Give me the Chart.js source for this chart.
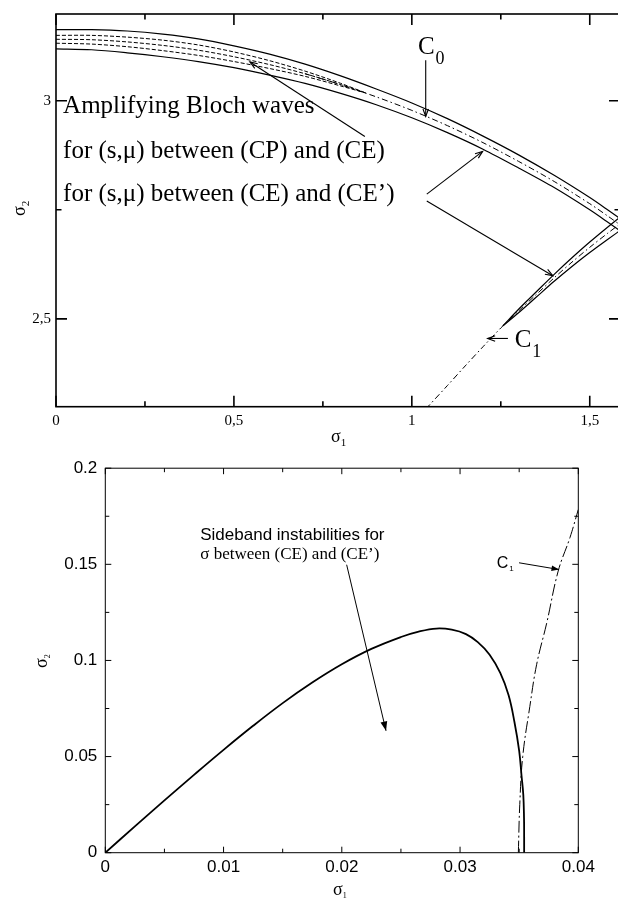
<!DOCTYPE html>
<html>
<head>
<meta charset="utf-8">
<title>Bloch wave instability domains</title>
<script src="https://cdn.jsdelivr.net/npm/chart.js@4.4.1/dist/chart.umd.min.js"></script>
<style>
  html, body { margin: 0; padding: 0; background: #fff; overflow: hidden; width: 618px; height: 898px; }
  canvas { position: absolute; left: 0; }
  #blochChart { top: 0; }
  #sidebandChart { top: 450px; }
</style>
</head>
<body>
<canvas id="blochChart" width="640" height="450"></canvas>
<canvas id="sidebandChart" width="618" height="448"></canvas>
<script>
// ---------- upper panel: bands around C0 and C1 ----------
const c0Sigma1 = [0, 0.1, 0.2, 0.3, 0.4, 0.5, 0.6, 0.7, 0.8, 0.9, 1.0, 1.1, 1.2, 1.3, 1.4, 1.5, 1.55, 1.6];
const c0Sigma2 = [3.141, 3.140, 3.135, 3.127, 3.116, 3.101, 3.083, 3.062, 3.037, 3.009, 2.978, 2.943, 2.904, 2.861, 2.815, 2.764, 2.736, 2.707];
const c0UpperSigma2 = [3.163, 3.163, 3.160, 3.153, 3.142, 3.126, 3.107, 3.084, 3.057, 3.027, 2.995, 2.959, 2.919, 2.876, 2.829, 2.778, 2.750, 2.721];
const c0LowerSigma2 = [3.119, 3.117, 3.110, 3.101, 3.090, 3.076, 3.059, 3.040, 3.017, 2.991, 2.961, 2.927, 2.889, 2.846, 2.801, 2.750, 2.722, 2.693];

// dashed inner curves (CP..CE), merging into C0
const innerSigma1 = [0, 0.1, 0.2, 0.3, 0.4, 0.5, 0.6, 0.7, 0.8, 0.87];
const innerUpper = [3.150, 3.150, 3.146, 3.139, 3.128, 3.112, 3.092, 3.068, 3.040, 3.018];
const innerMiddle = [3.141, 3.140, 3.135, 3.127, 3.116, 3.101, 3.083, 3.062, 3.037, 3.018];
const innerLower = [3.132, 3.130, 3.124, 3.115, 3.104, 3.090, 3.074, 3.056, 3.034, 3.018];

// C0 dash-dot from where the inner curves meet it
const c0LineSigma1 = [0.7, 0.8, 0.9, 1.0, 1.1, 1.2, 1.3, 1.4, 1.5, 1.55, 1.6];
const c0LineSigma2 = [3.062, 3.037, 3.009, 2.978, 2.943, 2.904, 2.861, 2.815, 2.764, 2.736, 2.707];

const c1Sigma1 = [1.04, 1.1, 1.15, 1.2, 1.25, 1.3, 1.35, 1.4, 1.45, 1.5, 1.55, 1.6];
const c1Sigma2 = [2.294, 2.347, 2.392, 2.436, 2.479, 2.518, 2.556, 2.594, 2.630, 2.664, 2.696, 2.727];
const c1BandSigma1 = [1.256, 1.3, 1.35, 1.4, 1.45, 1.5, 1.55, 1.6];
const c1UpperSigma2 = [2.484, 2.522, 2.562, 2.602, 2.640, 2.676, 2.710, 2.743];
const c1LowerSigma2 = [2.484, 2.514, 2.550, 2.586, 2.620, 2.652, 2.682, 2.711];

const topXTicks = [0, 0.5, 1, 1.5];
const topXLabels = ['0', '0,5', '1', '1,5'];
const topXMinor = [0.25, 0.75, 1.25];
const topYTicks = [2.5, 3];
const topYLabels = ['2,5', '3'];
const topYMinor = [2.75];

// ---------- lower panel: sideband instability ----------
const sidebandSigma1 = [0, 0.0025, 0.005, 0.0075, 0.01, 0.0125, 0.015, 0.0175, 0.02, 0.0225, 0.025, 0.0265, 0.028, 0.0293, 0.0305, 0.0315, 0.0325, 0.0334, 0.0341, 0.0346, 0.035, 0.0352, 0.03535, 0.03541, 0.03542, 0.03542];
const sidebandSigma2 = [0, 0.0137, 0.0272, 0.0405, 0.0535, 0.066, 0.0778, 0.0885, 0.098, 0.106, 0.1122, 0.115, 0.1166, 0.116, 0.1137, 0.1095, 0.103, 0.0935, 0.082, 0.068, 0.053, 0.04, 0.03, 0.018, 0.008, 0];
const c1LowSigma1 = [0.03493, 0.03505, 0.0353, 0.0359, 0.03648, 0.03733, 0.0383, 0.0393, 0.0400];
const c1LowSigma2 = [0, 0.025, 0.05, 0.076, 0.098, 0.1195, 0.1465, 0.164, 0.1785];

const botXTicks = [0, 0.01, 0.02, 0.03, 0.04];
const botXLabels = ['0', '0.01', '0.02', '0.03', '0.04'];
const botXMinor = [0.005, 0.015, 0.025, 0.035];
const botYTicks = [0, 0.05, 0.1, 0.15, 0.2];
const botYLabels = ['0', '0.05', '0.1', '0.15', '0.2'];
const botYMinor = [0.025, 0.075, 0.125, 0.175];

const SERIF = '"Liberation Serif", "Times New Roman", serif';
const SANS = '"Liberation Sans", Arial, sans-serif';

const pts = (xs, ys) => xs.map((v, i) => ({ x: v, y: ys[i] }));

function curve(xs, ys, style) {
  return Object.assign({
    data: pts(xs, ys), showLine: true, pointRadius: 0, borderColor: '#000',
    borderWidth: 1.2, fill: false, tension: 0.3
  }, style);
}

function fixedTicks(values) {
  return scale => { scale.ticks = values.map(v => ({ value: v })); };
}

// frame box with inward tick marks on all four sides
const frameTicks = {
  id: 'frameTicks',
  afterDatasetsDraw(chart, args, opts) {
    const { ctx, chartArea: a, scales: { x, y } } = chart;
    ctx.save();
    ctx.strokeStyle = '#000';
    ctx.lineWidth = opts.lineWidth;
    ctx.strokeRect(a.left, a.top, a.right - a.left, a.bottom - a.top);
    ctx.beginPath();
    const xMarks = (vals, len) => vals.forEach(v => {
      const p = x.getPixelForValue(v);
      ctx.moveTo(p, a.bottom); ctx.lineTo(p, a.bottom - len);
      ctx.moveTo(p, a.top); ctx.lineTo(p, a.top + len);
    });
    const yMarks = (vals, len) => vals.forEach(v => {
      const p = y.getPixelForValue(v);
      ctx.moveTo(a.left, p); ctx.lineTo(a.left + len, p);
      ctx.moveTo(a.right, p); ctx.lineTo(a.right - len, p);
    });
    xMarks(opts.xMajor, opts.major);
    xMarks(opts.xMinor, opts.minor);
    yMarks(opts.yMajor, opts.major);
    yMarks(opts.yMinor, opts.minor);
    ctx.stroke();
    ctx.restore();
  }
};

function drawArrow(ctx, x1, y1, x2, y2, size, filled) {
  const ang = Math.atan2(y2 - y1, x2 - x1);
  ctx.beginPath();
  ctx.moveTo(x1, y1);
  ctx.lineTo(x2, y2);
  ctx.stroke();
  const a1 = ang + Math.PI - 0.35, a2 = ang + Math.PI + 0.35;
  ctx.beginPath();
  ctx.moveTo(x2 + size * Math.cos(a1), y2 + size * Math.sin(a1));
  ctx.lineTo(x2, y2);
  ctx.lineTo(x2 + size * Math.cos(a2), y2 + size * Math.sin(a2));
  if (filled) { ctx.closePath(); ctx.fill(); } else { ctx.stroke(); }
}

function drawSubText(ctx, t, x, y) {
  ctx.font = t.font;
  ctx.fillText(t.text, x, y);
  if (t.sub) {
    const w = ctx.measureText(t.text).width;
    ctx.font = t.subFont;
    ctx.fillText(t.sub, x + w + (t.subDx || 0), y + t.subDy);
  }
}

// labels, arrows and axis titles
const notes = {
  id: 'notes',
  afterDraw(chart, args, opts) {
    const { ctx, scales: { x, y } } = chart;
    ctx.save();
    ctx.fillStyle = '#000';
    ctx.strokeStyle = '#000';
    ctx.textAlign = 'left';
    ctx.textBaseline = 'alphabetic';
    opts.texts.forEach(t => drawSubText(ctx, t, x.getPixelForValue(t.x), y.getPixelForValue(t.y)));
    ctx.lineWidth = opts.arrowWidth;
    opts.arrows.forEach(a => drawArrow(ctx,
      x.getPixelForValue(a.from[0]), y.getPixelForValue(a.from[1]),
      x.getPixelForValue(a.to[0]), y.getPixelForValue(a.to[1]), a.size, a.filled));
    // axis titles
    const xt = opts.xTitle;
    drawSubText(ctx, xt, xt.px, xt.py);
    const yt = opts.yTitle;
    ctx.translate(yt.px, yt.py);
    ctx.rotate(-Math.PI / 2);
    drawSubText(ctx, yt, 0, 0);
    ctx.restore();
  }
};

function axis(min, max, ticks, labels, font, padding, fit) {
  return {
    type: 'linear', min, max,
    grid: { display: false, drawTicks: false },
    border: { display: false },
    ticks: {
      autoSkip: false, maxRotation: 0, padding, color: '#000', font,
      callback: (v, i) => labels[i]
    },
    afterBuildTicks: fixedTicks(ticks),
    afterFit: fit
  };
}

new Chart(document.getElementById('blochChart'), {
  type: 'scatter',
  data: {
    datasets: [
      curve(c0Sigma1, c0UpperSigma2, {}),
      curve(c0Sigma1, c0LowerSigma2, {}),
      curve(innerSigma1, innerUpper, { borderWidth: 1, borderDash: [4, 2] }),
      curve(innerSigma1, innerMiddle, { borderWidth: 1, borderDash: [4, 2] }),
      curve(innerSigma1, innerLower, { borderWidth: 1, borderDash: [4, 2] }),
      curve(c0LineSigma1, c0LineSigma2, { borderWidth: 1, borderDash: [6, 3, 1.5, 3] }),
      curve(c1Sigma1, c1Sigma2, { borderWidth: 1, borderDash: [6, 3, 1.5, 3] }),
      curve(c1BandSigma1, c1UpperSigma2, {}),
      curve(c1BandSigma1, c1LowerSigma2, {})
    ]
  },
  options: {
    responsive: false,
    animation: false,
    events: [],
    layout: { padding: { top: 11.7, right: 20, left: 0, bottom: 0 } },
    plugins: {
      legend: { display: false },
      tooltip: { enabled: false },
      frameTicks: { lineWidth: 1.6, major: 11, minor: 5.5, xMajor: topXTicks, xMinor: topXMinor, yMajor: topYTicks, yMinor: topYMinor },
      notes: {
        arrowWidth: 1.1,
        texts: [
          { x: 0.02, y: 2.971, text: 'Amplifying Bloch waves', font: '25px ' + SERIF },
          { x: 0.02, y: 2.868, text: 'for (s,\u03bc) between (CP) and (CE)', font: '25px ' + SERIF },
          { x: 0.02, y: 2.770, text: 'for (s,\u03bc) between (CE) and (CE\u2019)', font: '25px ' + SERIF },
          { x: 1.017, y: 3.108, text: 'C', font: '25px ' + SERIF, sub: '0', subFont: '18px ' + SERIF, subDy: 10, subDx: 1 },
          { x: 1.289, y: 2.435, text: 'C', font: '25px ' + SERIF, sub: '1', subFont: '18px ' + SERIF, subDy: 10, subDx: 1 }
        ],
        arrows: [
          { from: [0.868, 2.918], to: [0.545, 3.089], size: 8 },
          { from: [1.039, 3.093], to: [1.039, 2.964], size: 8 },
          { from: [1.042, 2.786], to: [1.199, 2.884], size: 8 },
          { from: [1.042, 2.770], to: [1.396, 2.599], size: 8 },
          { from: [1.270, 2.455], to: [1.213, 2.455], size: 8 }
        ],
        xTitle: { text: '\u03c3', font: '18px ' + SERIF, sub: '1', subFont: '11px ' + SERIF, subDy: 4, px: 331, py: 442 },
        yTitle: { text: '\u03c3', font: '18px ' + SERIF, sub: '2', subFont: '11px ' + SERIF, subDy: 4, px: 25, py: 216 }
      }
    },
    scales: {
      x: axis(0, 1.585, topXTicks, topXLabels, { family: SERIF, size: 15 }, 5, s => { s.height = 43.3; }),
      y: axis(2.2985, 3.199, topYTicks, topYLabels, { family: SERIF, size: 15 }, 5, s => { s.width = 56; })
    }
  },
  plugins: [frameTicks, notes]
});

new Chart(document.getElementById('sidebandChart'), {
  type: 'scatter',
  data: {
    datasets: [
      curve(sidebandSigma1, sidebandSigma2, { borderWidth: 1.8, tension: 0.4 }),
      curve(c1LowSigma1, c1LowSigma2, { borderWidth: 1, borderDash: [12, 3, 2, 3], tension: 0.4 })
    ]
  },
  options: {
    responsive: false,
    animation: false,
    events: [],
    layout: { padding: { top: 9.3, right: 39.7, left: 0, bottom: 0 } },
    plugins: {
      legend: { display: false },
      tooltip: { enabled: false },
      frameTicks: { lineWidth: 1, major: 6, minor: 4, xMajor: botXTicks, xMinor: botXMinor, yMajor: botYTicks, yMinor: botYMinor },
      notes: {
        arrowWidth: 1,
        texts: [
          { x: 0.00803, y: 0.1625, text: 'Sideband instabilities for', font: '17px ' + SANS },
          { x: 0.00803, y: 0.1530, text: '\u03c3 between (CE) and (CE\u2019)', font: '17px ' + SERIF },
          { x: 0.0331, y: 0.148, text: 'C', font: '16px ' + SANS, sub: '1', subFont: '8px ' + SANS, subDy: 3, subDx: 1 }
        ],
        arrows: [
          { from: [0.02041, 0.1498], to: [0.02374, 0.0634], size: 10, filled: true },
          { from: [0.03499, 0.1508], to: [0.03837, 0.1473], size: 8, filled: true }
        ],
        xTitle: { text: '\u03c3', font: '18px ' + SERIF, sub: '1', subFont: '8px ' + SERIF, subDy: 3, px: 333, py: 445 },
        yTitle: { text: '\u03c3', font: '18px ' + SERIF, sub: '2', subFont: '8px ' + SERIF, subDy: 3, px: 47, py: 668 - 450 }
      }
    },
    scales: {
      x: axis(0, 0.04, botXTicks, botXLabels, { family: SANS, size: 17 }, 4, s => { s.height = 45.3; }),
      y: axis(0, 0.2, botYTicks, botYLabels, { family: SANS, size: 17 }, 8, s => { s.width = 105.3; })
    }
  },
  plugins: [frameTicks, notes]
});
</script>
</body>
</html>
